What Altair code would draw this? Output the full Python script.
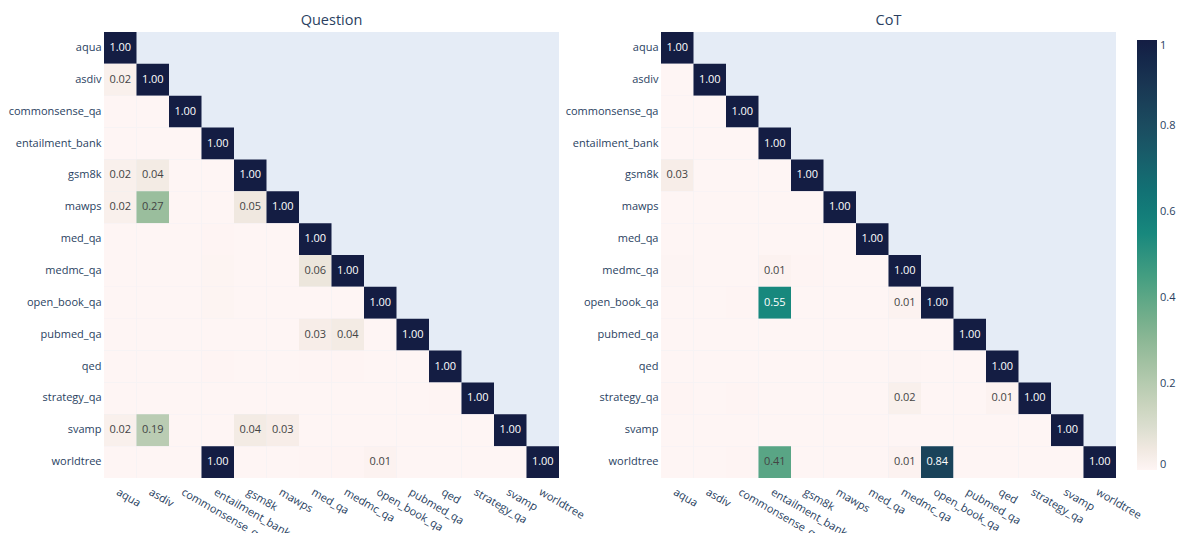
import altair as alt
import pandas as pd

datasets = ["aqua", "asdiv", "commonsense_qa", "entailment_bank", "gsm8k", "mawps",
            "med_qa", "medmc_qa", "open_book_qa", "pubmed_qa", "qed", "strategy_qa",
            "svamp", "worldtree"]

# lower-triangular similarity matrices (row i has i+1 entries)
question_rows = [
    [1.00],
    [0.02, 1.00],
    [0.001, 0.001, 1.00],
    [0.0, 0.0, 0.001, 1.00],
    [0.02, 0.04, 0.0, 0.0, 1.00],
    [0.02, 0.27, 0.0, 0.001, 0.05, 1.00],
    [0.0, 0.0, 0.0, 0.002, 0.0, 0.0, 1.00],
    [0.0, 0.0, 0.0, 0.004, 0.0, 0.0, 0.06, 1.00],
    [0.0, 0.0, 0.0, 0.004, 0.0, 0.0, 0.0, 0.0, 1.00],
    [0.0, 0.0, 0.0, 0.0, 0.0, 0.0, 0.03, 0.04, 0.0, 1.00],
    [0.0, 0.0, 0.0, 0.002, 0.001, 0.0, 0.002, 0.002, 0.0, 0.0, 1.00],
    [0.0, 0.0, 0.0, 0.0, 0.0, 0.0, 0.0, 0.0, 0.0, 0.0, 0.002, 1.00],
    [0.02, 0.19, 0.0, 0.0, 0.04, 0.03, 0.0, 0.0, 0.0, 0.0, 0.0, 0.0, 1.00],
    [0.0, 0.0, 0.0, 1.00, 0.0, 0.0, 0.002, 0.002, 0.01, 0.0, 0.0, 0.0, 0.0, 1.00],
]

cot_rows = [
    [1.00],
    [0.0, 1.00],
    [0.0, 0.0, 1.00],
    [0.0, 0.0, 0.0, 1.00],
    [0.03, 0.0, 0.0, 0.0, 1.00],
    [0.0, 0.0, 0.0, 0.0, 0.0, 1.00],
    [0.0, 0.0, 0.0, 0.0, 0.0, 0.0, 1.00],
    [0.003, 0.0, 0.001, 0.01, 0.002, 0.0, 0.0, 1.00],
    [0.0, 0.0, 0.002, 0.55, 0.0, 0.0, 0.0, 0.01, 1.00],
    [0.0, 0.0, 0.0, 0.0, 0.0, 0.0, 0.0, 0.0, 0.0, 1.00],
    [0.0, 0.0, 0.0, 0.0, 0.0, 0.0, 0.0, 0.003, 0.0, 0.0, 1.00],
    [0.002, 0.0, 0.002, 0.0, 0.001, 0.0, 0.0, 0.02, 0.0, 0.0, 0.01, 1.00],
    [0.0, 0.0, 0.0, 0.0, 0.0, 0.0, 0.0, 0.0, 0.0, 0.0, 0.0, 0.0, 1.00],
    [0.0, 0.0, 0.002, 0.41, 0.0, 0.0, 0.0, 0.01, 0.84, 0.0, 0.0, 0.0, 0.0, 1.00],
]

tempo_colors = ["rgb(254,245,244)", "rgb(222,224,210)", "rgb(189,206,181)",
                "rgb(153,189,156)", "rgb(110,173,138)", "rgb(65,157,129)",
                "rgb(25,137,125)", "rgb(18,116,117)", "rgb(25,94,106)",
                "rgb(28,72,93)", "rgb(25,51,80)", "rgb(20,29,67)"]
legend_ticks = [0, 0.2, 0.4, 0.6, 0.8, 1]

FONT = "Open Sans"
INK = "#2a3f5f"
LABEL_SIZE = 11


def make_df(rows):
    recs = []
    for i, r in enumerate(rows):
        for j, v in enumerate(r):
            recs.append({"row": datasets[i], "col": datasets[j], "value": v})
    return pd.DataFrame(recs)


stops = [k / (len(tempo_colors) - 1) for k in range(len(tempo_colors))]
color_scale = alt.Scale(domain=stops, range=tempo_colors, clamp=True)
legend = alt.Legend(title=None, orient="none", legendX=1033, legendY=8,
                    gradientLength=430, gradientThickness=20,
                    values=legend_ticks, format=".1~f", labelFont=FONT, labelFontSize=LABEL_SIZE,
                    labelColor=INK, labelOffset=3, gradientStrokeWidth=0, padding=0)


def panel(rows, title):
    df = make_df(rows)
    base = alt.Chart(df).encode(
        x=alt.X("col:N", scale=alt.Scale(domain=datasets, paddingInner=0, paddingOuter=0),
                axis=alt.Axis(title=None, labelAngle=30, labelAlign="left", labelBaseline="top",
                              ticks=False, domain=False, grid=False, labelPadding=8,
                              labelFont=FONT, labelFontSize=LABEL_SIZE, labelColor=INK)),
        y=alt.Y("row:N", scale=alt.Scale(domain=datasets, paddingInner=0, paddingOuter=0),
                axis=alt.Axis(title=None, ticks=False, domain=False, grid=False, labelPadding=3,
                              labelFont=FONT, labelFontSize=LABEL_SIZE, labelColor=INK)),
    )
    rect = base.mark_rect().encode(color=alt.Color("value:Q", scale=color_scale, legend=legend))
    text = base.transform_filter("datum.value >= 0.005").mark_text(font=FONT, fontSize=LABEL_SIZE).encode(
        text=alt.Text("value:Q", format=".2f"),
        color=alt.condition("datum.value > 0.5", alt.value("white"), alt.value("#444444")),
    )
    return alt.layer(rect, text).properties(
        width=455, height=446,
        title=alt.TitleParams(title, font=FONT, fontSize=14.5, fontWeight="normal", color=INK, offset=4),
    )


chart = alt.hconcat(
    panel(question_rows, "Question"), panel(cot_rows, "CoT"), spacing=102, bounds="flush"
).configure_view(
    fill="#E5ECF6", strokeWidth=0
).properties(
    background="white",
    autosize=alt.AutoSizeParams(type="none"),
    padding={"left": 96, "top": 24, "right": 1075, "bottom": 493},
)

chart.save("out.html", embed_options={"renderer": "svg", "actions": False})
